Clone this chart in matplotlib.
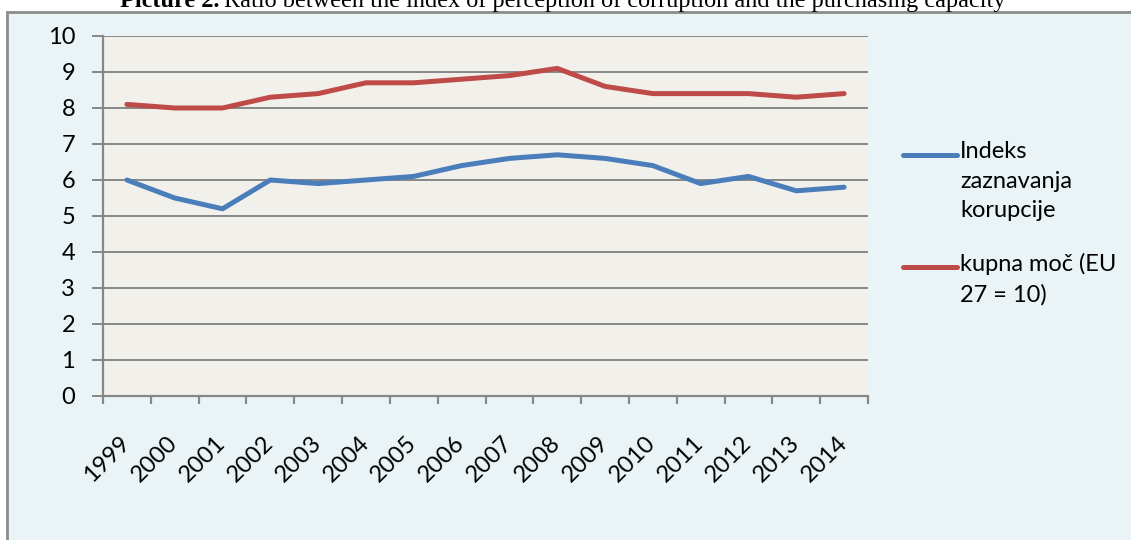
import matplotlib.pyplot as plt
import matplotlib.patches as patches
import matplotlib.transforms as mtransforms
from matplotlib.lines import Line2D

leta = ['1999', '2000', '2001', '2002', '2003', '2004', '2005', '2006',
        '2007', '2008', '2009', '2010', '2011', '2012', '2013', '2014']
indeks = [6.0, 5.5, 5.2, 6.0, 5.9, 6.0, 6.1, 6.4, 6.6, 6.7, 6.6, 6.4, 5.9, 6.1, 5.7, 5.8]
kupna_moc = [8.1, 8.0, 8.0, 8.3, 8.4, 8.7, 8.7, 8.8, 8.9, 9.1, 8.6, 8.4, 8.4, 8.4, 8.3, 8.4]
oznake = ['Indeks\nzaznavanja\nkorupcije', 'kupna moč (EU\n27 = 10)']
barve = ['#4A7EBB', '#BE4B48']

W, H = 1131, 540
fig = plt.figure(figsize=(W / 100, H / 100), dpi=100)
fig.patch.set_facecolor('white')
font = ['Lato', 'DejaVu Sans']
fs = 17

# okvir grafa
okvir = patches.Rectangle((7 / W, -0.05), 1.1, (H - 12) / H + 0.05, transform=fig.transFigure,
                          facecolor='#EAF4F7', edgecolor='#8C8C8C', linewidth=2, zorder=-5)
fig.patches.append(okvir)

ax = fig.add_axes([103 / W, (H - 396) / H, (868 - 103) / W, (396 - 36) / H])
ax.set_zorder(2)
ax.set_facecolor('#F2F0EB')
x = list(range(len(leta)))
ax.plot(x, indeks, color=barve[0], linewidth=3.6, solid_capstyle='round', zorder=3)
ax.plot(x, kupna_moc, color=barve[1], linewidth=3.6, solid_capstyle='round', zorder=3)

ax.set_xlim(-0.5, len(leta) - 0.5)
ax.set_ylim(0, 10)
ax.set_yticks(range(0, 11))
ax.yaxis.grid(True, color='#878787', linewidth=1.4)
ax.set_axisbelow(True)
ax.tick_params(axis='y', length=8, width=1.4, color='#878787', pad=12, labelsize=fs)
for lab in ax.get_yticklabels():
    lab.set_family(font)

ax.set_xticks([i - 0.5 for i in range(len(leta) + 1)])
ax.set_xticklabels([])
ax.set_xticks(x, minor=True)
ax.set_xticklabels(leta, minor=True, rotation=45, ha='right', fontsize=fs, family=font)
ax.tick_params(axis='x', which='major', length=6, width=1.6, color='#878787')
ax.tick_params(axis='x', which='minor', length=0, pad=26)
premik = mtransforms.ScaledTranslation(7 / 100, 0, fig.dpi_scale_trans)
for lab in ax.get_xticklabels(minor=True):
    lab.set_transform(lab.get_transform() + premik)

for s in ['top', 'right']:
    ax.spines[s].set_visible(False)
for s in ['left', 'bottom']:
    ax.spines[s].set_color('#878787')
    ax.spines[s].set_linewidth(1.6)

# legenda
legenda_y = [155, 267]
for oznaka, barva, ly in zip(oznake, barve, legenda_y):
    fig.add_artist(Line2D([903 / W, 957 / W], [1 - ly / H, 1 - ly / H], color=barva,
                          linewidth=3.6, solid_capstyle='round', transform=fig.transFigure))
    fig.text(960 / W, 1 - (ly - 14) / H, oznaka, ha='left', va='top', fontsize=fs,
             family=font, linespacing=1.5)

# naslov
naslov_b = fig.text(120 / W, 1 - 7 / H, 'Picture 2.', ha='left', va='baseline',
                    fontsize=17.5, fontweight='bold', family='Liberation Serif')
fig.canvas.draw()
bb = naslov_b.get_window_extent()
fig.text(bb.x1 / W + 4 / W, 1 - 7 / H,
         'Ratio between the index of perception of corruption and the purchasing capacity',
         ha='left', va='baseline', fontsize=17.5, family='Liberation Serif')

fig.savefig('out.png', dpi=100)
